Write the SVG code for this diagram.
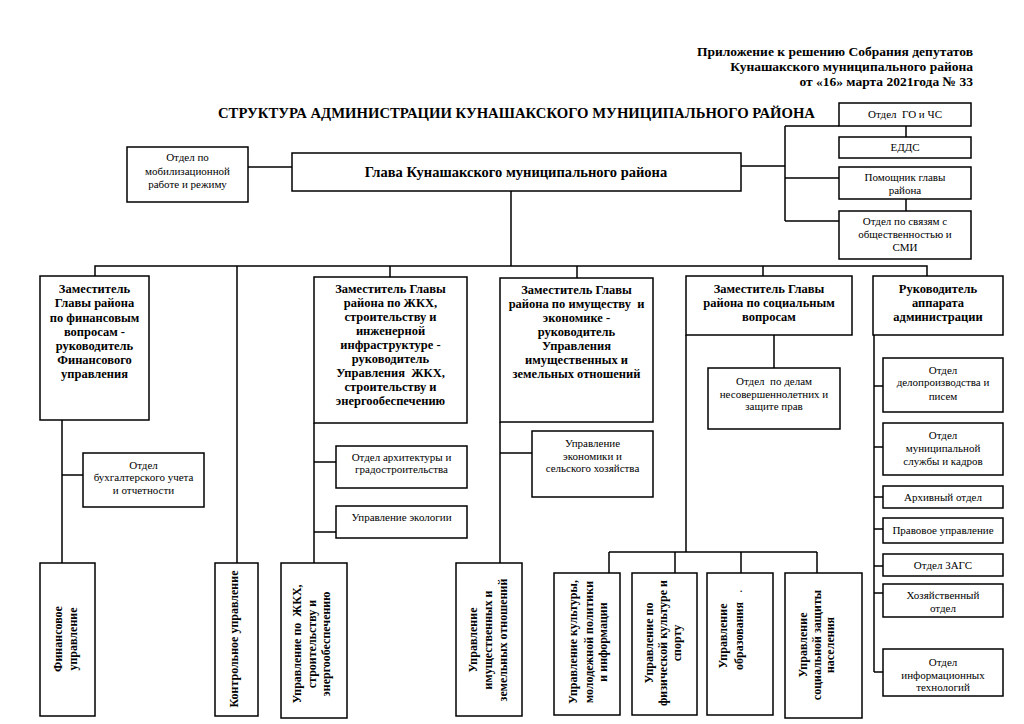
<svg xmlns="http://www.w3.org/2000/svg" width="1024" height="724" viewBox="0 0 1024 724">
<style>
.box{fill:#fff;stroke:#000;stroke-width:1.5}
.ln{fill:none;stroke:#000;stroke-width:1.5}
text{font-family:"Liberation Serif","Times New Roman",serif;fill:#000}
.t{font-size:11px;text-anchor:middle}
.b{font-size:12.5px;font-weight:bold;text-anchor:middle}
.v{font-size:12px;font-weight:bold;text-anchor:middle}
.h{font-size:13.5px;font-weight:bold;text-anchor:end}
</style>
<rect width="1024" height="724" fill="#fff"/>
<g id="header">
<text class="h" x="973" y="56">Приложение к решению Собрания депутатов</text>
<text class="h" x="973" y="71">Кунашакского муниципального района</text>
<text class="h" x="973" y="86">от «16» марта 2021года № 33</text>
<text x="218" y="118" font-size="14.5" font-weight="bold" textLength="597" lengthAdjust="spacingAndGlyphs">СТРУКТУРА АДМИНИСТРАЦИИ КУНАШАКСКОГО МУНИЦИПАЛЬНОГО РАЙОНА</text>
</g>
<g id="connectors">
<path class="ln" d="M248,167 H292"/>
<path class="ln" d="M741,166 H785 M785,126 V221 M785,126 H839 M785,178 H839 M785,221 H839 M906,126 V137 M906,199 V211"/>
<path class="ln" d="M511,191 V266 M95,276 V266 H927 V276 M237,266 V563 M390,266 V277 M577,266 V278 M763,266 V276"/>
<path class="ln" d="M62,420 V563 M62,475 H83"/>
<path class="ln" d="M314,423 V563 M314,462 H336 M314,532 H336"/>
<path class="ln" d="M500,422 V563 M500,453 H532"/>
<path class="ln" d="M774,335 V368 M686,335 V552 M609,552 H817 M609,552 V573 M675,552 V573 M741,552 V573 M817,552 V573"/>
<path class="ln" d="M874,335 V672 M874,386 H883 M874,447 H883 M874,497 H883 M874,529 H883 M874,566 H883 M874,593 H883 M874,672 H883"/>
</g>
<g id="mob">
<rect class="box" x="127" y="147" width="121" height="55"/>
<text class="t" x="187.5" y="161">Отдел по</text>
<text class="t" x="187.5" y="175">мобилизационной</text>
<text class="t" x="187.5" y="188">работе и режиму</text>
</g>
<g id="glava">
<rect class="box" x="292" y="153" width="449" height="38"/>
<text x="516" y="177" font-size="14.5" font-weight="bold" text-anchor="middle">Глава Кунашакского муниципального района</text>
</g>
<g id="go">
<rect class="box" x="839" y="103" width="132" height="23"/>
<text class="t" x="905" y="118" xml:space="preserve">Отдел  ГО и ЧС</text>
</g>
<g id="edds">
<rect class="box" x="839" y="137" width="132" height="21"/>
<text class="t" x="905" y="151">ЕДДС</text>
</g>
<g id="pomoshnik">
<rect class="box" x="839" y="167" width="132" height="32"/>
<text class="t" x="905" y="181">Помощник главы</text>
<text class="t" x="905" y="194">района</text>
</g>
<g id="smi">
<rect class="box" x="839" y="211" width="132" height="48"/>
<text class="t" x="905" y="225">Отдел по связям с</text>
<text class="t" x="905" y="238">общественностью и</text>
<text class="t" x="905" y="251">СМИ</text>
</g>
<g id="zam-fin">
<rect class="box" x="40" y="276" width="109" height="144"/>
<text class="b" x="94.5" y="293">Заместитель</text>
<text class="b" x="94.5" y="307">Главы района</text>
<text class="b" x="94.5" y="322">по финансовым</text>
<text class="b" x="94.5" y="336">вопросам -</text>
<text class="b" x="94.5" y="350">руководитель</text>
<text class="b" x="94.5" y="364">Финансового</text>
<text class="b" x="94.5" y="378">управления</text>
</g>
<g id="buh">
<rect class="box" x="83" y="453" width="121" height="54"/>
<text class="t" x="143.5" y="469">Отдел</text>
<text class="t" x="143.5" y="481">бухгалтерского учета</text>
<text class="t" x="143.5" y="494">и отчетности</text>
</g>
<g id="zam-zhkh">
<rect class="box" x="314" y="277" width="153" height="146"/>
<text class="b" x="390.5" y="293">Заместитель Главы</text>
<text class="b" x="390.5" y="307">района по ЖКХ,</text>
<text class="b" x="390.5" y="321">строительству и</text>
<text class="b" x="390.5" y="335">инженерной</text>
<text class="b" x="390.5" y="349">инфраструктуре -</text>
<text class="b" x="390.5" y="363">руководитель</text>
<text class="b" x="390.5" y="377" xml:space="preserve">Управления  ЖКХ,</text>
<text class="b" x="390.5" y="391">строительству и</text>
<text class="b" x="390.5" y="405">энергообеспечению</text>
</g>
<g id="arh">
<rect class="box" x="336" y="446" width="131" height="42"/>
<text class="t" x="401.5" y="461">Отдел архитектуры и</text>
<text class="t" x="401.5" y="473">градостроительства</text>
</g>
<g id="ecol">
<rect class="box" x="336" y="506" width="131" height="32"/>
<text class="t" x="401.5" y="521">Управление экологии</text>
</g>
<g id="zam-im">
<rect class="box" x="500" y="278" width="153" height="144"/>
<text class="b" x="576.5" y="294">Заместитель Главы</text>
<text class="b" x="576.5" y="308" xml:space="preserve">района по имуществу  и</text>
<text class="b" x="576.5" y="322">экономике -</text>
<text class="b" x="576.5" y="336">руководитель</text>
<text class="b" x="576.5" y="350">Управления</text>
<text class="b" x="576.5" y="364">имущественных и</text>
<text class="b" x="576.5" y="378">земельных отношений</text>
</g>
<g id="econ">
<rect class="box" x="532" y="431" width="121" height="66"/>
<text class="t" x="592.5" y="447">Управление</text>
<text class="t" x="592.5" y="460">экономики и</text>
<text class="t" x="592.5" y="472">сельского хозяйства</text>
</g>
<g id="zam-soc">
<rect class="box" x="686" y="276" width="166" height="59"/>
<text class="b" x="769" y="293">Заместитель Главы</text>
<text class="b" x="769" y="307">района по социальным</text>
<text class="b" x="769" y="321">вопросам</text>
</g>
<g id="nesov">
<rect class="box" x="708" y="368" width="132" height="61"/>
<text class="t" x="774" y="385" xml:space="preserve">Отдел  по делам</text>
<text class="t" x="774" y="398">несовершеннолетних и</text>
<text class="t" x="774" y="410">защите прав</text>
</g>
<g id="ruk">
<rect class="box" x="873" y="276" width="130" height="59"/>
<text class="b" x="938" y="293">Руководитель</text>
<text class="b" x="938" y="307">аппарата</text>
<text class="b" x="938" y="321">администрации</text>
</g>
<g id="delo">
<rect class="box" x="883" y="358" width="120" height="54"/>
<text class="t" x="943" y="374">Отдел</text>
<text class="t" x="943" y="386">делопроизводства и</text>
<text class="t" x="943" y="400">писем</text>
</g>
<g id="kadry">
<rect class="box" x="883" y="423" width="120" height="52"/>
<text class="t" x="943" y="439">Отдел</text>
<text class="t" x="943" y="452">муниципальной</text>
<text class="t" x="943" y="465">службы и кадров</text>
</g>
<g id="arhiv">
<rect class="box" x="883" y="486" width="120" height="22"/>
<text class="t" x="943" y="501">Архивный отдел</text>
</g>
<g id="pravo">
<rect class="box" x="883" y="518" width="120" height="25"/>
<text class="t" x="943" y="534">Правовое управление</text>
</g>
<g id="zags">
<rect class="box" x="883" y="554" width="120" height="22"/>
<text class="t" x="943" y="569">Отдел ЗАГС</text>
</g>
<g id="hoz">
<rect class="box" x="883" y="584" width="120" height="33"/>
<text class="t" x="943" y="599">Хозяйственный</text>
<text class="t" x="943" y="612">отдел</text>
</g>
<g id="it">
<rect class="box" x="883" y="649" width="120" height="47"/>
<text class="t" x="943" y="666">Отдел</text>
<text class="t" x="943" y="679">информационных</text>
<text class="t" x="943" y="691">технологий</text>
</g>
<g id="fin-upr">
<rect class="box" x="40" y="563" width="55" height="153"/>
<g transform="translate(67.5,639) rotate(-90)">
<text class="v" x="0" y="-6">Финансовое</text>
<text class="v" x="0" y="9">управление</text>
</g>
</g>
<g id="kontrol">
<rect class="box" x="215" y="563" width="43" height="153"/>
<g transform="translate(236.5,639) rotate(-90)">
<text class="v" x="0" y="1">Контрольное управление</text>
</g>
</g>
<g id="zhkh-upr">
<rect class="box" x="281" y="563" width="66" height="155"/>
<g transform="translate(314,644) rotate(-90)">
<text class="v" x="0" y="-13" xml:space="preserve">Управление по  ЖКХ,</text>
<text class="v" x="0" y="2">строительству и</text>
<text class="v" x="0" y="16">энергообеспечению</text>
</g>
</g>
<g id="im-upr">
<rect class="box" x="456" y="563" width="66" height="153"/>
<g transform="translate(489,640) rotate(-90)">
<text class="v" x="0" y="-12">Управление</text>
<text class="v" x="0" y="3">имущественных и</text>
<text class="v" x="0" y="18">земельных отношений</text>
</g>
</g>
<g id="kult">
<rect class="box" x="554" y="573" width="66" height="142"/>
<g transform="translate(587,642) rotate(-90)">
<text class="v" x="0" y="-10">Управление культуры,</text>
<text class="v" x="0" y="6">молодежной политики</text>
<text class="v" x="0" y="20">и информации</text>
</g>
</g>
<g id="sport">
<rect class="box" x="632" y="573" width="65" height="142"/>
<g transform="translate(664.5,643) rotate(-90)">
<text class="v" x="0" y="-11.5">Управление по</text>
<text class="v" x="0" y="2.5">физической культуре и</text>
<text class="v" x="0" y="16.5">спорту</text>
</g>
</g>
<g id="obraz">
<rect class="box" x="707" y="573" width="66" height="142"/>
<g transform="translate(740,636) rotate(-90)">
<text class="v" x="0" y="-13">Управление</text>
<text class="v" x="0" y="3">образования</text>
</g>
<text x="741" y="592" font-size="9" font-weight="bold" text-anchor="middle">.</text>
</g>
<g id="soczash">
<rect class="box" x="785" y="573" width="77" height="145"/>
<g transform="translate(823.5,645) rotate(-90)">
<text class="v" x="0" y="-16.5">Управление</text>
<text class="v" x="0" y="-2.5">социальной защиты</text>
<text class="v" x="0" y="10.5">населения</text>
</g>
</g>
</svg>
